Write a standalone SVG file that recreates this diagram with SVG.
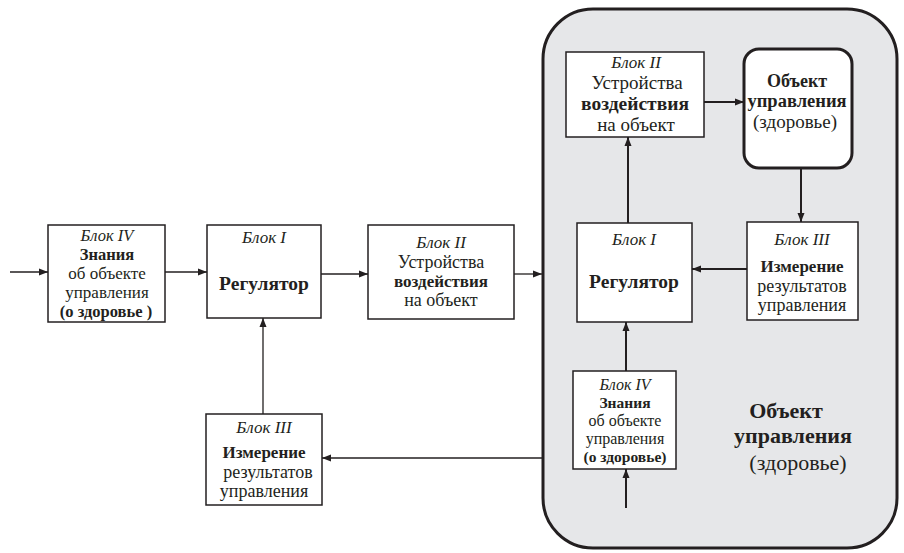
<svg xmlns="http://www.w3.org/2000/svg" width="904" height="553" viewBox="0 0 904 553" font-family="'Liberation Serif', 'DejaVu Serif', serif">
<style>
text{font-family:'Liberation Serif','DejaVu Serif',serif;fill:#231f20;text-anchor:middle}
.t{font-size:17px;font-style:italic}
.r{font-size:18px}
.b{font-size:17px;font-weight:bold}
.rb{font-size:19.5px;font-weight:bold}
.box{fill:#fff;stroke:#231f20;stroke-width:1.5}
.c{fill:none;stroke:#231f20;stroke-width:1.3}
.ci{fill:none;stroke:#231f20;stroke-width:2}
</style>
<defs>
<marker id="ah" markerUnits="userSpaceOnUse" markerWidth="9" markerHeight="8" refX="9" refY="4" orient="auto"><path d="M0,0.5 L9,4 L0,7.5 z" fill="#231f20"/></marker>
</defs>
<g id="object-area">
<rect x="543" y="9" width="354" height="539" rx="50" ry="50" fill="#e6e7e9" stroke="#231f20" stroke-width="3"/>
<text x="786" y="418" style="font-size:22px;font-weight:bold">Объект</text>
<text x="793" y="443" style="font-size:22px;font-weight:bold">управления</text>
<text x="798" y="470" style="font-size:22px">(здоровье)</text>
</g>
<g id="connectors">
<line class="c" x1="10" y1="272" x2="48" y2="272" marker-end="url(#ah)"/>
<line class="c" x1="165" y1="272" x2="207" y2="272" marker-end="url(#ah)"/>
<line class="c" x1="321" y1="274" x2="368" y2="274" marker-end="url(#ah)"/>
<line class="c" x1="514" y1="274" x2="542" y2="274" marker-end="url(#ah)"/>
<line class="c" x1="542" y1="458" x2="322" y2="458" marker-end="url(#ah)"/>
<line class="c" x1="263" y1="414" x2="263" y2="318" marker-end="url(#ah)"/>
<line class="ci" x1="704" y1="102" x2="744" y2="102" marker-end="url(#ah)"/>
<line class="ci" x1="628" y1="223" x2="628" y2="137" marker-end="url(#ah)"/>
<line class="ci" x1="801" y1="168" x2="801" y2="222" marker-end="url(#ah)"/>
<line class="ci" x1="747" y1="269" x2="692" y2="269" marker-end="url(#ah)"/>
<line class="ci" x1="626" y1="371" x2="626" y2="322" marker-end="url(#ah)"/>
<line class="ci" x1="626" y1="508" x2="626" y2="469" marker-end="url(#ah)"/>
</g>
<g id="block4-left">
<rect class="box" x="48" y="225" width="117" height="97"/>
<text class="t" x="107" y="241" style="font-size:16.5px">Блок IV</text>
<text class="b" x="107" y="260" style="font-size:16.5px">Знания</text>
<text class="r" x="107" y="279" style="font-size:17px">об объекте</text>
<text class="r" x="107" y="298" style="font-size:17px">управления</text>
<text class="b" x="106" y="317" style="font-size:16.5px">(о здоровье )</text>
</g>
<g id="block1-left">
<rect class="box" x="207" y="225" width="114" height="93"/>
<text class="t" x="264" y="243">Блок I</text>
<text class="rb" x="264" y="290">Регулятор</text>
</g>
<g id="block2-left">
<rect class="box" x="368" y="225" width="146" height="94"/>
<text class="t" x="441" y="248">Блок II</text>
<text class="r" x="441" y="268">Устройства</text>
<text class="b" x="441" y="287">воздействия</text>
<text class="r" x="441" y="306">на объект</text>
</g>
<g id="block3-left">
<rect class="box" x="206" y="414" width="116" height="91"/>
<text class="t" x="264" y="433">Блок III</text>
<text class="b" x="264" y="458">Измерение</text>
<text class="r" x="268" y="478">результатов</text>
<text class="r" x="264" y="497">управления</text>
</g>
<g id="block2-inner">
<rect class="box" x="566" y="52" width="138" height="85"/>
<text class="t" x="636" y="68">Блок II</text>
<text class="r" x="637" y="89" style="font-size:19px">Устройства</text>
<text class="rb" x="635" y="110">воздействия</text>
<text class="r" x="636" y="131" style="font-size:19px">на объект</text>
</g>
<g id="object-node">
<rect x="744" y="49" width="108" height="119" rx="15" ry="15" fill="#fff" stroke="#231f20" stroke-width="3"/>
<text class="b" x="797" y="87" style="font-size:18px">Объект</text>
<text class="b" x="797" y="107" style="font-size:18.5px">управления</text>
<text class="r" x="795" y="128" style="font-size:19px">(здоровье)</text>
</g>
<g id="block1-inner">
<rect class="box" x="577" y="223" width="115" height="99"/>
<text class="t" x="634" y="245">Блок I</text>
<text class="rb" x="634" y="288">Регулятор</text>
</g>
<g id="block3-inner">
<rect class="box" x="747" y="222" width="111" height="98"/>
<text class="t" x="802" y="245">Блок III</text>
<text class="b" x="802" y="272">Измерение</text>
<text class="r" x="802" y="292">результатов</text>
<text class="r" x="802" y="311">управления</text>
</g>
<g id="block4-inner">
<rect class="box" x="573" y="371" width="103" height="98"/>
<text class="t" x="625" y="390" style="font-size:16px">Блок IV</text>
<text class="b" x="625" y="408" style="font-size:15.5px">Знания</text>
<text class="r" x="625" y="426" style="font-size:16px">об объекте</text>
<text class="r" x="625" y="444" style="font-size:16px">управления</text>
<text class="b" x="625" y="462" style="font-size:15.5px">(о здоровье)</text>
</g>
</svg>
